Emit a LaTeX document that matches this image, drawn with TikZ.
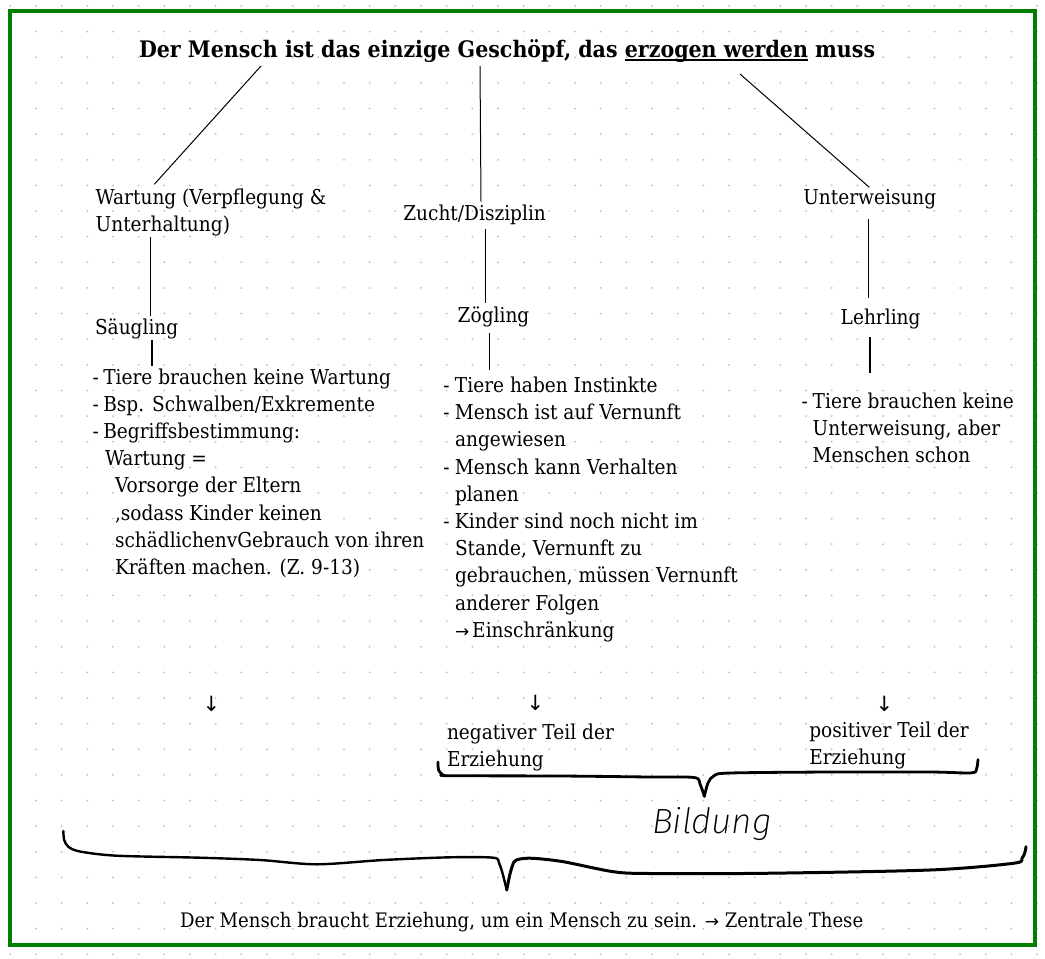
\documentclass[tikz,border=0pt]{standalone}
\usepackage{fontspec}
\setmainfont{DejaVu Serif}[FakeStretch=0.905]
\newfontfamily\arrowfont{DejaVu Sans}
\IfFontExistsTF{Fira Sans ExtraLight Italic}
  {\newfontfamily\hand{Fira Sans ExtraLight Italic}}
  {\IfFontExistsTF{Fira Sans Light Italic}
    {\newfontfamily\hand{Fira Sans Light Italic}}
    {\newcommand\hand{\sffamily\slshape}}}
\usetikzlibrary{calc}
\definecolor{framegreen}{RGB}{0,128,0}
\definecolor{dotgray}{RGB}{190,190,190}
\newsavebox\ulbox
\newcommand\myul[1]{\sbox\ulbox{#1}\rlap{\rule[-3.5pt]{\wd\ulbox}{1.8pt}}\usebox\ulbox}
\newcommand\sarr{{\arrowfont\fontsize{17}{17}\selectfont →}}
\newcommand\bul[2]{\hbox{\makebox[#1][l]{-}#2}}
\newcommand\cont[2]{\hbox{\hspace*{#1}#2}}
\newcommand\block[1]{\vtop{\baselineskip=27.2pt\lineskiplimit=-100pt\lineskip=0pt #1}}
\tikzset{
  txt/.style={anchor=base west, inner sep=0pt, outer sep=0pt, font=\fontsize{20.5}{27.2}\selectfont},
  conn/.style={line width=1pt, black},
  vconn/.style={line width=1.4pt, black},
  brace/.style={line width=2.8pt, black, line cap=round, line join=round},
  darr/.style={inner sep=0pt, font=\arrowfont\fontsize{21}{21}\selectfont},
}
\begin{document}
\begin{tikzpicture}[x=1pt,y=-1pt]
\useasboundingbox (0,0) rectangle (1045,959);
\fill[white] (0,0) rectangle (1045,959);
% dot grid
\foreach \i in {0,...,40}{
  \foreach \j in {0,...,37}{
    \fill[dotgray] (10.3+25.67*\i, 6+25.63*\j) circle[radius=1pt];
  }
}
\draw[framegreen, line width=4pt] (10.3,11) rectangle (1035,945);

% title
\node[txt, font=\bfseries\fontsize{22.75}{23}\selectfont] (title) at (139,57)
  {Der Mensch ist das einzige Geschöpf, das \myul{erzogen werden} muss};

% categories
\node[txt] (wart) at (95.7,204) {\block{\hbox{Wartung (Verpflegung \&}\hbox{Unterhaltung)}}};
\node[txt] (zucht) at (403.3,220.7) {Zucht/Disziplin};
\node[txt] (unter) at (803.3,204) {Unterweisung};

\node[txt] (saeug) at (95,334) {Säugling};
\node[txt] (zoeg) at (457.7,322.7) {Zögling};
\node[txt] (lehr) at (840.7,324) {Lehrling};

\node[txt] (llist) at (92.7,384) {\block{%
  \bul{10.6pt}{Tiere brauchen keine Wartung}
  \bul{10.6pt}{Bsp. Schwalben/Exkremente}
  \bul{10.6pt}{Begriffsbestimmung:}
  \cont{12.3pt}{Wartung =}
  \cont{22.3pt}{Vorsorge der Eltern}
  \cont{22.3pt}{,sodass Kinder keinen}
  \cont{22.3pt}{schädlichenvGebrauch von ihren}
  \cont{22.3pt}{Kräften machen. (Z. 9-13)}}};

\node[txt] (mlist) at (443.3,392.5) {\block{%
  \bul{11.7pt}{Tiere haben Instinkte}
  \bul{11.7pt}{Mensch ist auf Vernunft}
  \cont{11.7pt}{angewiesen}
  \bul{11.7pt}{Mensch kann Verhalten}
  \cont{11.7pt}{planen}
  \bul{11.7pt}{Kinder sind noch nicht im}
  \cont{11.7pt}{Stande, Vernunft zu}
  \cont{11.7pt}{gebrauchen, müssen Vernunft}
  \cont{11.7pt}{anderer Folgen}
  \cont{11.7pt}{\sarr\hspace{3pt}Einschränkung}}};

\node[txt] (rlist) at (801.7,408.3) {\block{%
  \bul{11pt}{Tiere brauchen keine}
  \cont{11pt}{Unterweisung, aber}
  \cont{11pt}{Menschen schon}}};

% small down arrows
\node[darr] (arrL) at (211.5,704) {↓};
\node[darr] (arrM) at (535.5,703) {↓};
\node[darr] (arrR) at (884.5,704) {↓};

\node[txt] (neg) at (447,739) {\block{\hbox{negativer Teil der}\hbox{Erziehung}}};
\node[txt] (pos) at (809.3,737) {\block{\hbox{positiver Teil der}\hbox{Erziehung}}};

\node[txt, font=\hand\fontsize{35}{35}\selectfont] (bild) at (652,833) {Bildung};

\node[txt, font=\fontsize{20}{27.2}\selectfont] (thesis) at (180,927) {Der Mensch braucht Erziehung, um ein Mensch zu sein. \sarr\ Zentrale These};

% connectors
\draw[conn] ($(title.base west)+(122,9)$) -- ($(wart.base west)+(58.6,-19.7)$);
\draw[conn] ($(title.base west)+(341,9)$) -- ($(zucht.base west)+(77.7,-19)$);
\draw[conn] ($(title.base west)+(601,17)$) -- ($(unter.base west)+(66,-16.7)$);
\draw[vconn] ($(wart.base west)+(55,33)$) -- ($(saeug.base west)+(55.7,-18)$);
\draw[vconn] ($(saeug.base west)+(57,6)$) -- ($(llist.base west)+(59.3,-18)$);
\draw[vconn] ($(zucht.base west)+(82,8.6)$) -- ($(zoeg.base west)+(27.6,-19.4)$);
\draw[vconn] ($(zoeg.base west)+(31.6,10.6)$) -- ($(mlist.base west)+(46,-22.5)$);
\draw[vconn] ($(unter.base west)+(65.4,15.3)$) -- ($(lehr.base west)+(28,-25.7)$);
\draw[vconn] ($(lehr.base west)+(29.3,13.3)$) -- ($(rlist.base west)+(68.3,-35.6)$);

% small brace
\draw[brace] plot[smooth, tension=0.5] coordinates {(437.9,762) (438.6,770) (442.5,774.6) (450,775.7) (560,776) (650,777) (694,777.5) (700,784) (704.3,796.4)};
\draw[brace] plot[smooth, tension=0.5] coordinates {(704.3,796.4) (708,783) (714,775.7) (730,773) (830,772) (930,772) (971,772.9) (976.5,769) (978,759.6)};

% big brace
\draw[brace, line width=2.4pt] plot[smooth, tension=0.5] coordinates {(63.3,831) (64.2,840) (68.3,846.7) (80,851.5) (116.7,855.7) (200,857.7) (260,860) (316.7,864.3) (383.3,860) (450,857.3) (493.3,857.7) (499,863) (503,875) (506.7,890)};
\draw[brace, line width=3pt] plot[smooth, tension=0.5] coordinates {(506.7,890) (510,874) (514,862) (520,859) (533.3,858.3) (563.3,861.7) (613.3,871.7) (650,873.5) (763.3,873.3) (930,870) (1013.3,863.3) (1022,858.3) (1025,852) (1026,846.7)};
\end{tikzpicture}
\end{document}
